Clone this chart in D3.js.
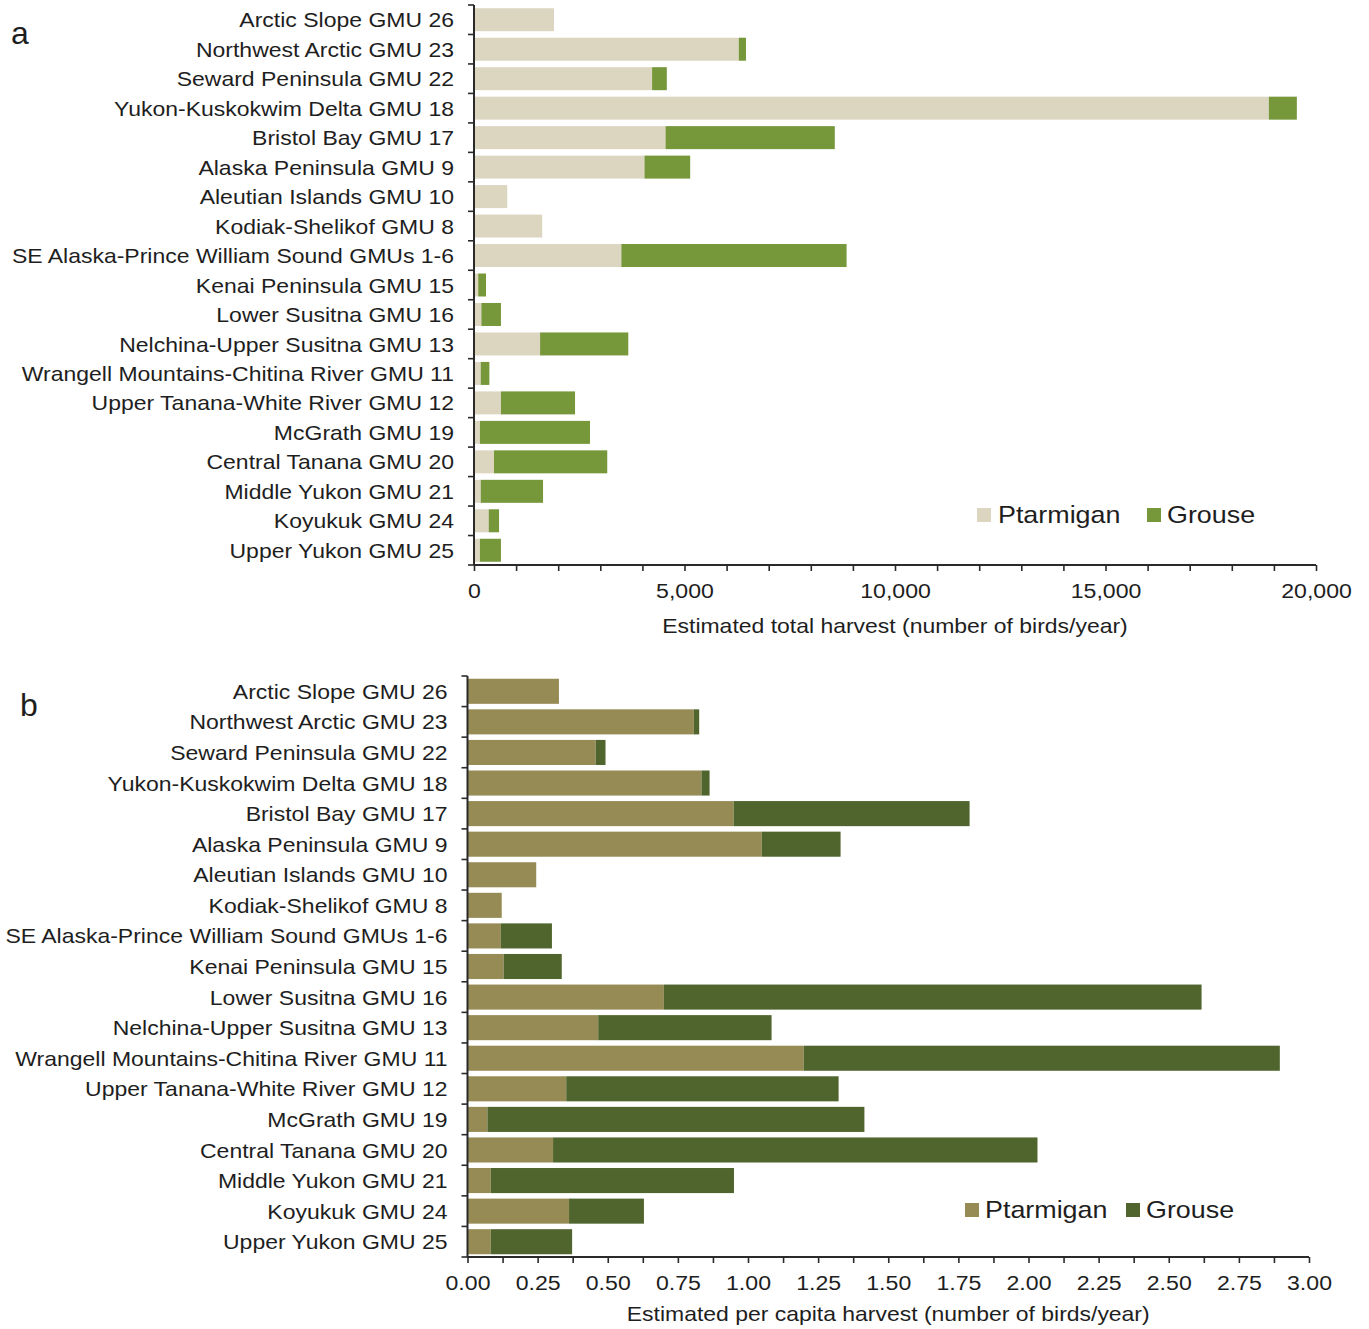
<!DOCTYPE html>
<html>
<head>
<meta charset="utf-8">
<script src="https://cdn.jsdelivr.net/npm/d3@7"></script>
<style>
  html, body { margin: 0; padding: 0; background: #fff; }
  svg { display: block; font-family: "Liberation Sans", Arial, sans-serif; }
</style>
</head>
<body>
<svg id="chart" width="1369" height="1329"></svg>
<script>
// ---------- DATA ----------
const categories = [
  "Arctic Slope GMU 26",
  "Northwest Arctic GMU 23",
  "Seward Peninsula GMU 22",
  "Yukon-Kuskokwim Delta GMU 18",
  "Bristol Bay GMU 17",
  "Alaska Peninsula GMU 9",
  "Aleutian Islands GMU 10",
  "Kodiak-Shelikof GMU 8",
  "SE Alaska-Prince William Sound GMUs 1-6",
  "Kenai Peninsula GMU 15",
  "Lower Susitna GMU 16",
  "Nelchina-Upper Susitna GMU 13",
  "Wrangell Mountains-Chitina River GMU 11",
  "Upper Tanana-White River GMU 12",
  "McGrath GMU 19",
  "Central Tanana GMU 20",
  "Middle Yukon GMU 21",
  "Koyukuk GMU 24",
  "Upper Yukon GMU 25"
];
const seriesNames = ["Ptarmigan", "Grouse"];

// Panel a: estimated total harvest (birds/year)
const totalPtarmigan = [1900, 6290, 4230, 18880, 4550, 4050, 790, 1620, 3500, 100, 175, 1570, 160, 640, 140, 475, 160, 350, 140];
const totalGrouse    = [0, 170, 350, 665, 4020, 1085, 0, 0, 5350, 185, 465, 2095, 205, 1760, 2615, 2690, 1480, 245, 500];

// Panel b: estimated per capita harvest (birds/year)
const perCapitaPtarmigan = [0.326, 0.807, 0.457, 0.834, 0.949, 1.049, 0.245, 0.122, 0.119, 0.129, 0.700, 0.466, 1.199, 0.352, 0.071, 0.305, 0.083, 0.362, 0.083];
const perCapitaGrouse    = [0, 0.019, 0.035, 0.029, 0.841, 0.281, 0, 0, 0.182, 0.207, 1.917, 0.618, 1.697, 0.971, 1.344, 1.727, 0.867, 0.267, 0.290];

const totalTicks = d3.range(0, 20001, 1000);
const totalTickLabels = [0, 5000, 10000, 15000, 20000];
const perCapitaTicks = d3.range(0, 3.0001, 0.125);
const perCapitaTickLabels = [0, 0.25, 0.5, 0.75, 1, 1.25, 1.5, 1.75, 2, 2.25, 2.5, 2.75, 3];

// ---------- DRAWING ----------
const svg = d3.select("#chart");
const TEXT = "#1e1e1e";
const AXIS = "#2a2a2a";

function stretch(sel, s) {
  sel.each(function () {
    const x = +this.getAttribute("x") || 0;
    this.setAttribute("transform", `translate(${x},0) scale(${s},1) translate(${-x},0)`);
  });
}

function panel(cfg) {
  const g = svg.append("g");
  const y = d3.scaleBand().domain(categories).range(cfg.yRange).paddingInner(cfg.pad).paddingOuter(cfg.pad / 2);
  const x = d3.scaleLinear().domain(cfg.xDomain).range(cfg.xRange);

  const rows = categories.map((c, i) => ({ c, p: cfg.p[i], g: cfg.g[i] }));

  // bars: ptarmigan then grouse stacked
  g.selectAll("rect.p").data(rows).join("rect")
    .attr("x", x(0)).attr("y", d => y(d.c))
    .attr("width", d => x(d.p) - x(0)).attr("height", y.bandwidth())
    .attr("fill", cfg.colors[0]);
  g.selectAll("rect.g").data(rows.filter(d => d.g > 0)).join("rect")
    .attr("x", d => x(d.p)).attr("y", d => y(d.c))
    .attr("width", d => x(d.p + d.g) - x(d.p)).attr("height", y.bandwidth())
    .attr("fill", cfg.colors[1]);

  const x0 = cfg.xRange[0];
  const yTop = cfg.yRange[0], yBot = cfg.yRange[1];

  // y axis line + boundary ticks
  g.append("line").attr("x1", x0).attr("x2", x0).attr("y1", yTop).attr("y2", yBot)
    .attr("stroke", AXIS).attr("stroke-width", 2);
  const step = y.step();
  g.selectAll("line.yt").data(d3.range(categories.length + 1)).join("line")
    .attr("x1", x0 - 6).attr("x2", x0).attr("y1", i => yTop + i * step).attr("y2", i => yTop + i * step)
    .attr("stroke", AXIS).attr("stroke-width", 1.6);

  // category labels
  const lab = g.selectAll("text.cat").data(categories).join("text")
    .attr("x", x0 - 20).attr("y", d => y(d) + y.bandwidth() / 2)
    .attr("dy", "0.36em").attr("text-anchor", "end")
    .attr("font-size", 21).attr("fill", TEXT).text(d => d);
  stretch(lab, 1.095);

  // x axis
  const xa = d3.axisBottom(x).tickValues(cfg.ticks).tickSize(6).tickPadding(12)
    .tickFormat(v => cfg.labels.some(l => Math.abs(l - v) < 1e-9) ? cfg.fmt(v) : "");
  const ax = g.append("g").attr("transform", `translate(0,${yBot})`).call(xa);
  ax.select(".domain").attr("stroke", AXIS).attr("stroke-width", 2)
    .attr("d", `M${cfg.xRange[0]},0H${cfg.xRange[1]}`);
  ax.selectAll(".tick line").attr("stroke", AXIS).attr("stroke-width", 1.6);
  const tt = ax.selectAll(".tick text").attr("font-size", 21).attr("fill", TEXT)
    .attr("font-family", "Liberation Sans, Arial, sans-serif");
  tt.each(function () { this.setAttribute("transform", `scale(1.1,1)`); });

  // axis title
  const t = g.append("text").attr("x", (cfg.xRange[0] + cfg.xRange[1]) / 2).attr("y", cfg.titleY)
    .attr("text-anchor", "middle").attr("font-size", 20.5).attr("fill", TEXT).text(cfg.title);
  stretch(t, 1.12);

  // panel letter
  g.append("text").attr("x", cfg.letterX).attr("y", cfg.letterY).attr("font-size", 32)
    .attr("fill", TEXT).text(cfg.letter);

  // legend
  const lg = g.append("g");
  seriesNames.forEach((name, i) => {
    lg.append("rect").attr("x", cfg.legend[i][0]).attr("y", cfg.legendY - 15)
      .attr("width", 14).attr("height", 14).attr("fill", cfg.colors[i]);
    const lt = lg.append("text").attr("x", cfg.legend[i][1]).attr("y", cfg.legendY)
      .attr("font-size", 24).attr("fill", TEXT).text(name);
    stretch(lt, 1.12);
  });
}

panel({
  p: totalPtarmigan, g: totalGrouse,
  yRange: [5, 565], xRange: [474, 1316], xDomain: [0, 20000], pad: 0.22,
  ticks: totalTicks, labels: totalTickLabels, fmt: d3.format(","),
  colors: ["#dcd6c1", "#76973a"],
  title: "Estimated total harvest (number of birds/year)", titleY: 633,
  letter: "a", letterX: 11, letterY: 44,
  legend: [[977, 998], [1147, 1167]], legendY: 523
});

panel({
  p: perCapitaPtarmigan, g: perCapitaGrouse,
  yRange: [676, 1257], xRange: [467.5, 1309], xDomain: [0, 3], pad: 0.18,
  ticks: perCapitaTicks, labels: perCapitaTickLabels, fmt: d3.format(".2f"),
  colors: ["#968b55", "#50652d"],
  title: "Estimated per capita harvest (number of birds/year)", titleY: 1321,
  letter: "b", letterX: 20, letterY: 716,
  legend: [[965, 985], [1126, 1146]], legendY: 1218
});
</script>
</body>
</html>
